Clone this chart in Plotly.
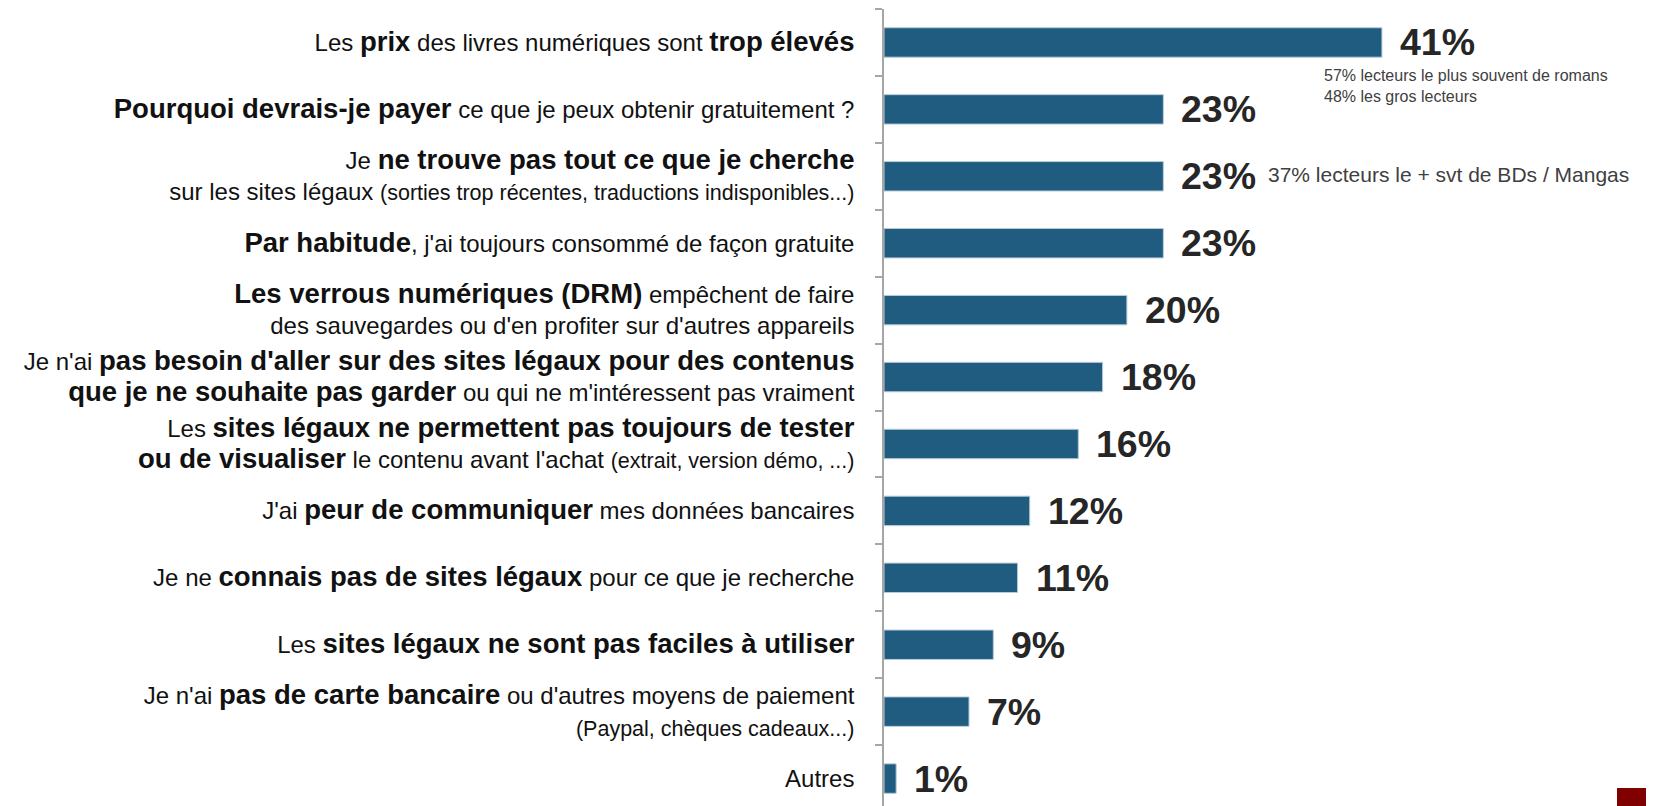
import plotly.graph_objects as go

FONT = "Liberation Sans, Arial, sans-serif"


def b(s):
    return '<span style="font-size:27.5px"><b>' + s + '</b></span>'


def sm(s):
    return '<span style="font-size:21.5px">' + s + '</span>'


# ---- data ----
labels = [
    "Les " + b("prix") + " des livres numériques sont " + b("trop élevés"),
    b("Pourquoi devrais-je payer") + " ce que je peux obtenir gratuitement ?",
    "Je " + b("ne trouve pas tout ce que je cherche") + "<br>sur les sites légaux "
    + sm("(sorties trop récentes, traductions indisponibles...)"),
    b("Par habitude") + ", j'ai toujours consommé de façon gratuite",
    b("Les verrous numériques (DRM)") + " empêchent de faire<br>des sauvegardes ou d'en profiter sur d'autres appareils",
    "Je n'ai " + b("pas besoin d'aller sur des sites légaux pour des contenus") + "<br>"
    + b("que je ne souhaite pas garder") + " ou qui ne m'intéressent pas vraiment",
    "Les " + b("sites légaux ne permettent pas toujours de tester") + "<br>"
    + b("ou de visualiser") + " le contenu avant l'achat " + sm("(extrait, version démo, ...)"),
    "J'ai " + b("peur de communiquer") + " mes données bancaires",
    "Je ne " + b("connais pas de sites légaux") + " pour ce que je recherche",
    "Les " + b("sites légaux ne sont pas faciles à utiliser"),
    "Je n'ai " + b("pas de carte bancaire") + " ou d'autres moyens de paiement<br>"
    + sm("(Paypal, chèques cadeaux...)"),
    "Autres",
]
values = [41, 23, 23, 23, 20, 18, 16, 12, 11, 9, 7, 1]
value_labels = ["41%", "23%", "23%", "23%", "20%", "18%", "16%", "12%", "11%", "9%", "7%", "1%"]

note_prix = "57% lecteurs le plus souvent de romans<br>48% les gros lecteurs"
note_bd = "37% lecteurs le + svt de BDs / Mangas"

BAR = "#1F5C80"
AXIS = "#A6A6A6"

fig = go.Figure()
fig.add_trace(go.Bar(
    x=values, y=labels, orientation="h", width=0.44,
    marker=dict(color=BAR, line=dict(color="#B9CCDA", width=1)),
    hoverinfo="skip",
))

for lab, v, t in zip(labels, values, value_labels):
    fig.add_annotation(x=v, y=lab, text="<b>" + t + "</b>", showarrow=False,
                       xanchor="left", yanchor="middle", xshift=16,
                       font=dict(family=FONT, size=37.5, color="#262626"))

fig.add_annotation(x=values[0], y=labels[0], text=note_prix, showarrow=False,
                   xanchor="left", yanchor="middle", align="left",
                   xshift=-60, yshift=-44,
                   font=dict(family=FONT, size=16, color="#404040"))
fig.add_annotation(x=values[2], y=labels[2], text=note_bd, showarrow=False,
                   xanchor="left", yanchor="middle", align="left",
                   xshift=103, yshift=2,
                   font=dict(family=FONT, size=21, color="#404040"))

fig.add_shape(type="rect", xref="paper", yref="paper",
              xsizemode="pixel", ysizemode="pixel", xanchor=1, yanchor=0,
              x0=-37, x1=0, y0=0, y1=18,
              fillcolor="#800000", line=dict(width=0))

fig.update_layout(
    width=1646, height=798,
    margin=dict(l=876, r=0, t=1, b=0, autoexpand=False),
    paper_bgcolor="white", plot_bgcolor="white",
    showlegend=False,
    font=dict(family=FONT, size=24, color="#111111"),
    xaxis=dict(range=[0, 63.4], visible=False, fixedrange=True),
    yaxis=dict(type="category", categoryorder="array", categoryarray=labels,
               range=[11.41, -0.5], showline=True, linecolor=AXIS, linewidth=1.5,
               ticks="outside", ticklen=7, tickcolor=AXIS, tickwidth=1.5,
               tickson="boundaries", showgrid=False, zeroline=False,
               automargin=False, ticklabelstandoff=23,
               tickfont=dict(family=FONT, size=24, color="#111111")),
)

fig.write_html("out.html")
